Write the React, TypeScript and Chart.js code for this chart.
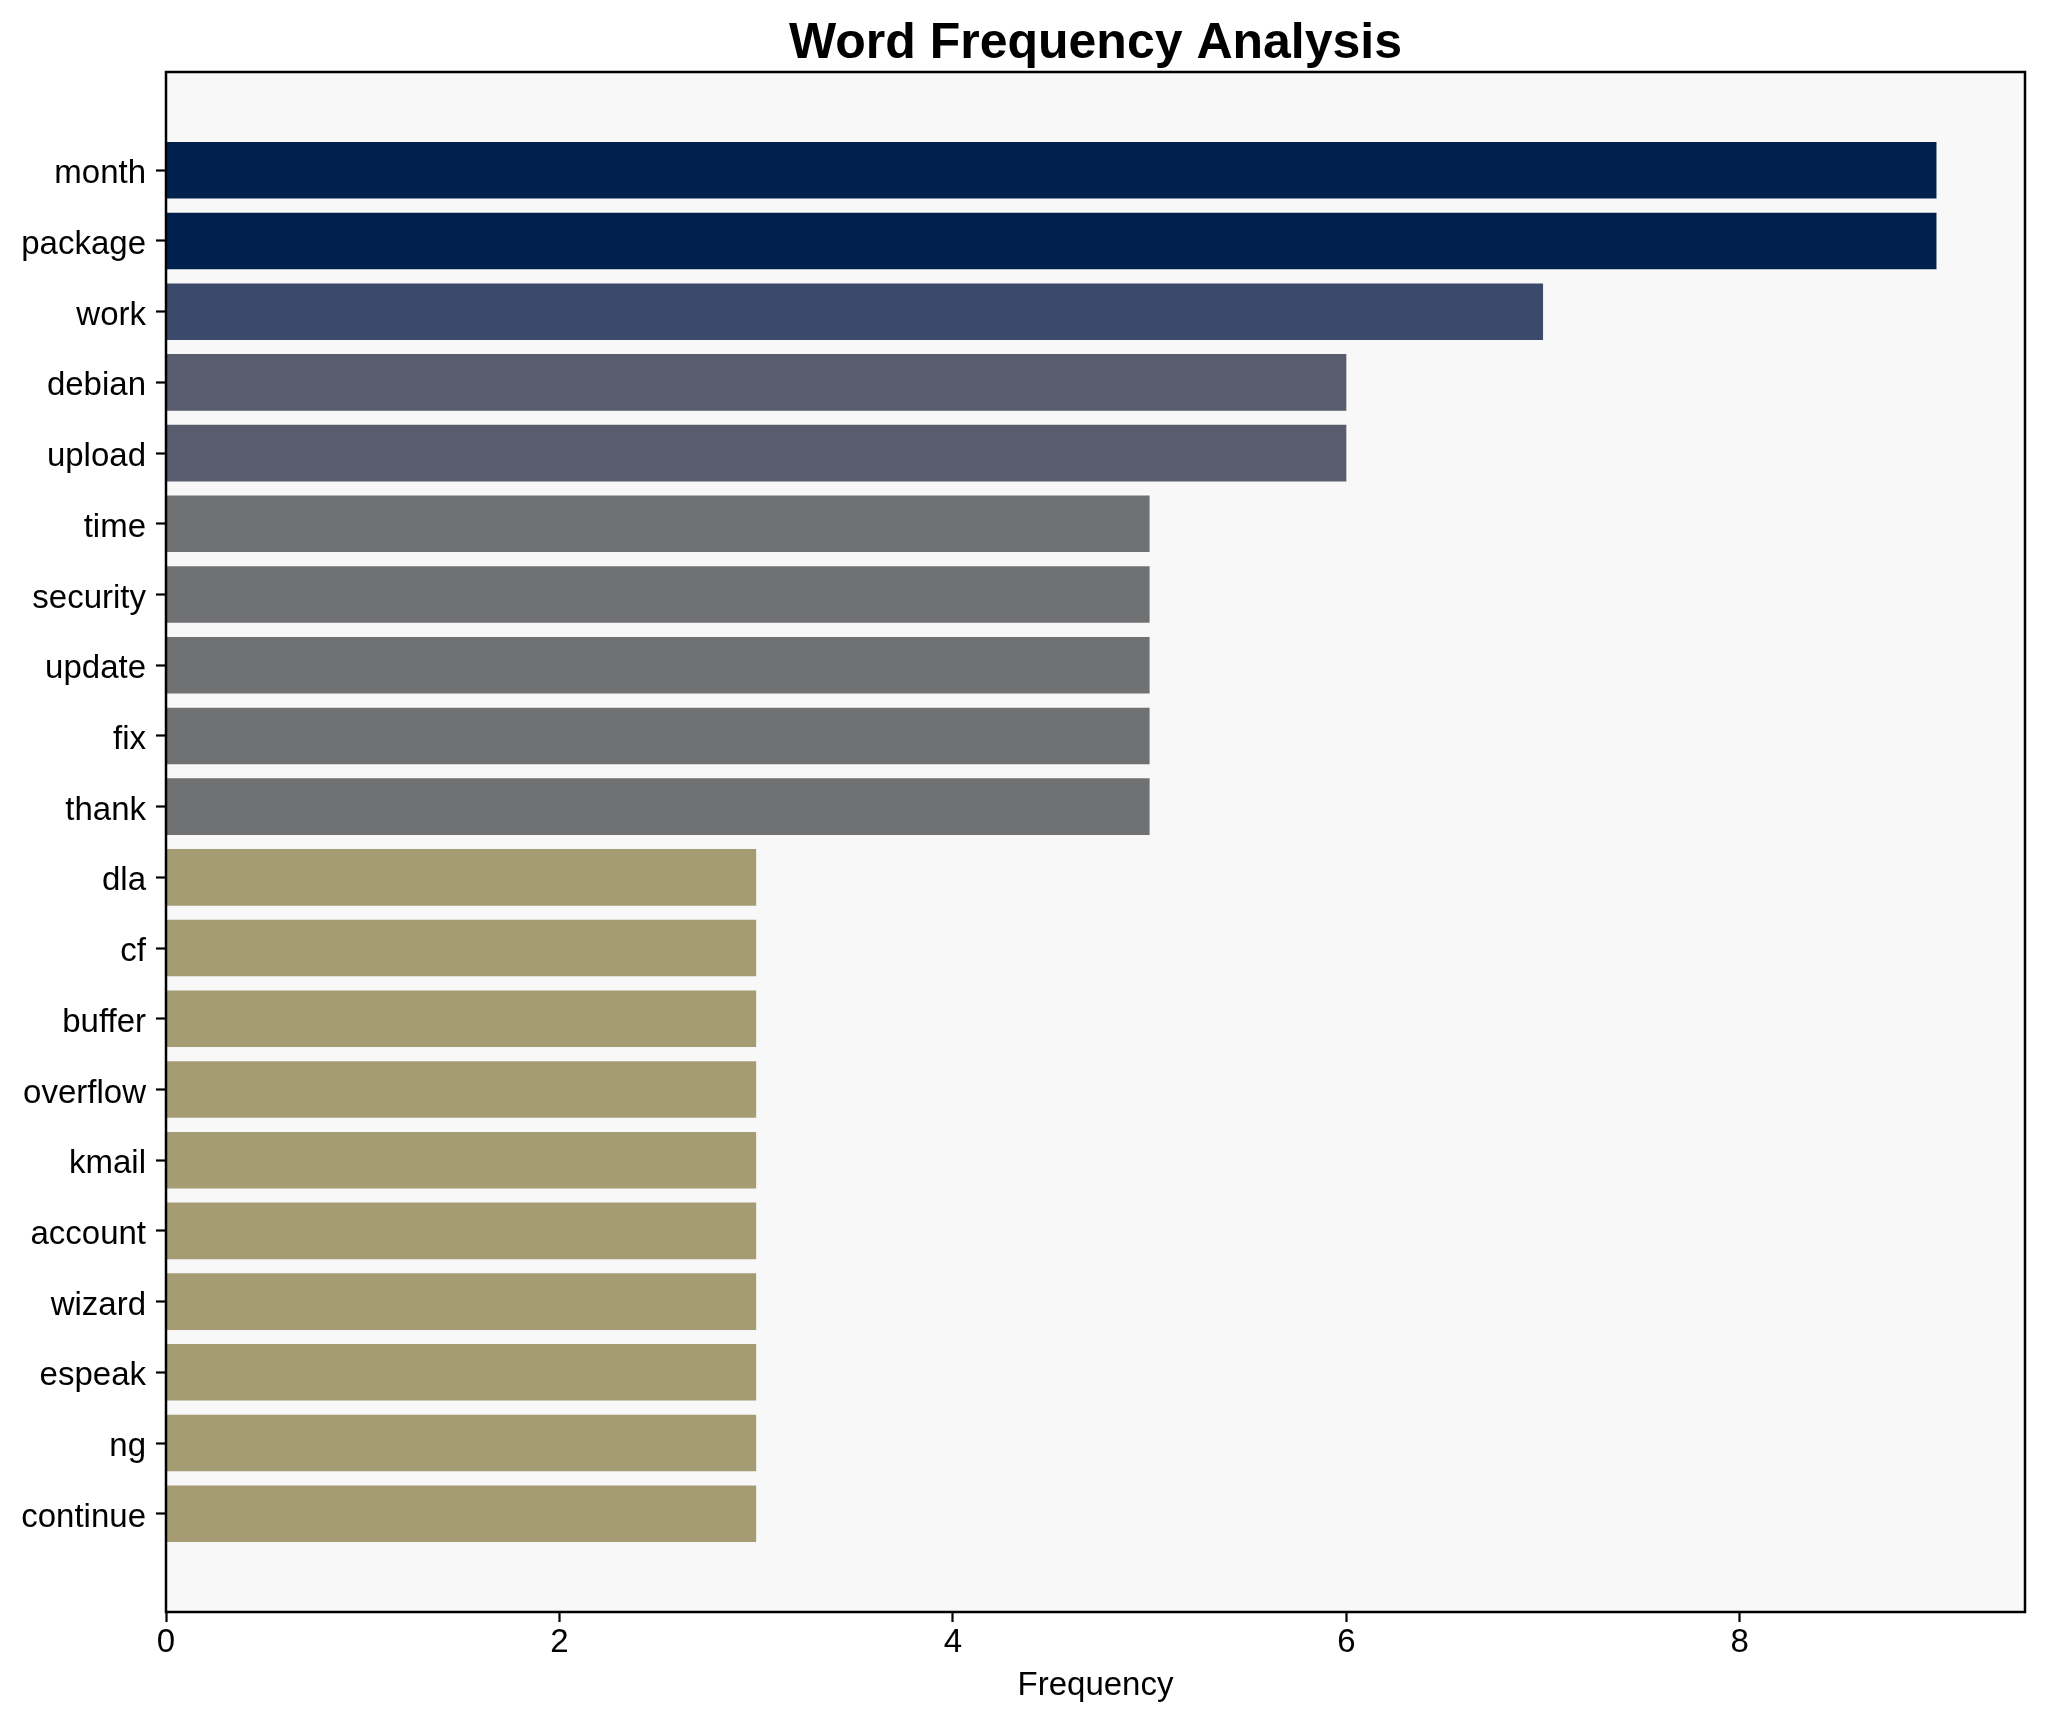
import { useEffect, useRef } from "react";
import { Chart, registerables } from "chart.js";

Chart.register(...registerables);

const words = [
  "month", "package", "work", "debian", "upload", "time", "security", "update", "fix", "thank",
  "dla", "cf", "buffer", "overflow", "kmail", "account", "wizard", "espeak", "ng", "continue",
];
const counts = [9, 9, 7, 6, 6, 5, 5, 5, 5, 5, 3, 3, 3, 3, 3, 3, 3, 3, 3, 3];
const palette: Record<number, string> = {
  9: "#00214D",
  7: "#3B496B",
  6: "#575D6D",
  5: "#707173",
  3: "#A59C74",
};

const FAMILY = "'Liberation Sans', Arial, sans-serif";

export default function App() {
  const ref = useRef<HTMLCanvasElement>(null);

  useEffect(() => {
    document.body.style.margin = "0";
    const frame = {
      id: "frame",
      beforeDraw(chart: any) {
        const { ctx, chartArea: a } = chart;
        ctx.save();
        ctx.fillStyle = "#ffffff";
        ctx.fillRect(0, 0, chart.width, chart.height);
        ctx.fillStyle = "#F8F8F8";
        ctx.fillRect(a.left, a.top, a.right - a.left, a.bottom - a.top);
        ctx.restore();
      },
      afterDraw(chart: any) {
        const { ctx, chartArea: a } = chart;
        ctx.save();
        ctx.strokeStyle = "#000";
        ctx.lineWidth = 2.5;
        ctx.strokeRect(a.left, a.top, a.right - a.left, a.bottom - a.top);
        // y tick labels, positioned by the y scale
        const ys = chart.scales.y;
        ctx.fillStyle = "#000";
        ctx.font = `33px ${FAMILY}`;
        ctx.textAlign = "right";
        ctx.textBaseline = "middle";
        for (const t of ys.ticks) {
          const label = words[t.value as number];
          if (label === undefined) continue;
          ctx.fillText(label, ys.right - 20, ys.getPixelForValue(t.value) + 4);
        }
        ctx.restore();
      },
    };

    const chart = new Chart(ref.current!, {
      type: "bar",
      data: {
        datasets: [
          {
            data: words.map((_, i) => ({ x: counts[i], y: i })),
            backgroundColor: counts.map((c) => palette[c]),
            categoryPercentage: 0.8,
            barPercentage: 1,
            borderWidth: 0,
          } as any,
        ],
      },
      options: {
        indexAxis: "y",
        responsive: false,
        animation: false,
        devicePixelRatio: 1,
        layout: { padding: { left: 0, right: 20, top: 0, bottom: 0 } },
        plugins: {
          legend: { display: false },
          tooltip: { enabled: false },
          title: {
            display: true,
            fullSize: false,
            text: "Word Frequency Analysis",
            color: "#000",
            font: { size: 50, weight: "bold", family: FAMILY, lineHeight: 1.1 },
            padding: { top: 17, bottom: 0 },
          },
        },
        scales: {
          x: {
            type: "linear",
            position: "bottom",
            min: 0,
            max: 9.45,
            ticks: {
              stepSize: 2,
              includeBounds: false,
              color: "#000",
              font: { size: 33, family: FAMILY },
              padding: 1,
              maxRotation: 0,
            },
            grid: {
              drawOnChartArea: false,
              drawTicks: true,
              tickLength: 10,
              tickWidth: 2.2,
              tickColor: "#000",
            },
            border: { display: false },
            title: {
              display: true,
              text: "Frequency",
              color: "#000",
              font: { size: 33, family: FAMILY },
              padding: { top: 16, bottom: 16 },
            },
            afterFit(s: any) {
              s.height = 110;
            },
          },
          y: {
            type: "linear",
            position: "left",
            reverse: true,
            offset: false,
            min: -1.39,
            max: 20.39,
            ticks: {
              stepSize: 1,
              includeBounds: false,
              autoSkip: false,
              color: "rgba(0,0,0,0)",
              font: { size: 33, family: FAMILY },
              padding: 10,
              callback: (v: any) => words[v as number] ?? null,
            },
            grid: {
              offset: false,
              drawOnChartArea: false,
              drawTicks: true,
              tickLength: 10,
              tickWidth: 2.2,
              tickColor: "#000",
            },
            border: { display: false },
            afterFit(s: any) {
              s.width = 166;
            },
          },
        },
      } as any,
      plugins: [frame],
    });
    return () => chart.destroy();
  }, []);

  return (
    <div style={{ width: 2045, height: 1722 }}>
      <canvas ref={ref} width={2045} height={1722} style={{ display: "block" }} />
    </div>
  );
}
